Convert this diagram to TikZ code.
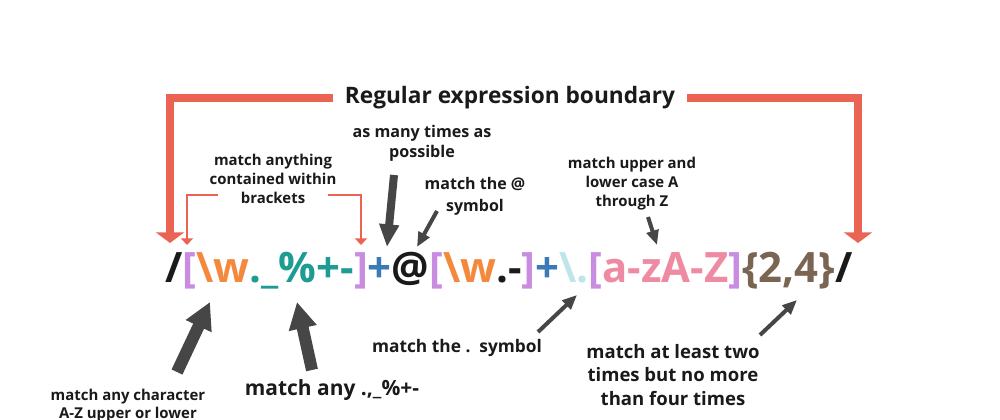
\documentclass[tikz,border=0pt]{standalone}
\usepackage{fontspec}
\setmainfont{Open Sans}
\usepackage{xcolor}
\usepackage{tikz}
\usetikzlibrary{arrows.meta, positioning}
\definecolor{inkblack}{RGB}{26, 26, 26}
\definecolor{arrowgray}{RGB}{70, 70, 70}
\definecolor{boundred}{RGB}{235, 99, 82}
\definecolor{bracketpurple}{RGB}{200, 140, 225}
\definecolor{wordorange}{RGB}{244, 136, 60}
\definecolor{charteal}{RGB}{30, 156, 148}
\definecolor{plusblue}{RGB}{59, 123, 181}
\definecolor{dotcyan}{RGB}{189, 229, 234}
\definecolor{azpink}{RGB}{238, 139, 162}
\definecolor{quantbrown}{RGB}{122, 100, 82}
\tikzstyle{note} = [text=inkblack, font=\fontsize{11.2}{14.3}\selectfont\bfseries, align=center, inner sep=0pt]
\tikzstyle{boundary} = [draw=boundred, line width=6pt, -{Triangle[width=21pt, length=8pt]}]
\tikzstyle{bracketline} = [draw=boundred, line width=2.2pt, -{Triangle[width=9pt, length=5pt]}]
\tikzstyle{thinarrow} = [draw=arrowgray, line width=3pt, -{Triangle[width=9pt, length=11pt]}]
\tikzstyle{midarrow} = [draw=arrowgray, line width=6pt, -{Triangle[width=14pt, length=17pt]}]
\tikzstyle{fatarrow} = [draw=arrowgray, line width=9pt, -{Triangle[width=20pt, length=20pt]}]

\begin{document}
\begin{tikzpicture}[x=0.75pt, y=-0.75pt]
    \fill[white] (0,0) rectangle (1000,420);
    \useasboundingbox (0,0) rectangle (1000,420);

    % The expression itself
    \node[anchor=base, inner sep=0pt, font=\fontsize{31.4}{36}\selectfont\bfseries] (regex) at (509, 283) {%
        \textcolor{inkblack}{/}\textcolor{bracketpurple}{[}\textcolor{wordorange}{\textbackslash w}\textcolor{charteal}{.\_\%+-}\textcolor{bracketpurple}{]}\textcolor{plusblue}{+}\textcolor{inkblack}{@}\textcolor{bracketpurple}{[}\textcolor{wordorange}{\textbackslash w}\textcolor{inkblack}{.-}\textcolor{bracketpurple}{]}\textcolor{plusblue}{+}\textcolor{dotcyan}{\textbackslash .}\textcolor{bracketpurple}{[}\textcolor{azpink}{a-zA-Z}\textcolor{bracketpurple}{]}\textcolor{quantbrown}{\{2,4\}}\textcolor{inkblack}{/}};

    % Boundary
    \node[note, font=\fontsize{17}{20}\selectfont\bfseries, inner xsep=9pt] (title) at (510, 98) {Regular expression boundary};
    \coordinate (lefttip) at (170, 243);
    \coordinate (righttip) at (858, 243);
    \draw[boundary] (title.west) -| (lefttip);
    \draw[boundary] (title.east) -| (righttip);

    % Brackets
    \node[note] (bracketnote) at (273, 179) {match anything\\contained within\\brackets};
    \coordinate (bropen) at (218, 195);
    \coordinate (brclose) at (328, 195);
    \coordinate (opentip) at (187, 245);
    \coordinate (closetip) at (361, 245);
    \draw[bracketline] (bropen) -| (opentip);
    \draw[bracketline] (brclose) -| (closetip);

    % Notes above
    \node[note, font=\fontsize{12.1}{15}\selectfont\bfseries] (manynote) at (422, 143) {as many times as\\possible};
    \node[note, font=\fontsize{12}{16.5}\selectfont\bfseries] (atnote) at (475, 196) {match the @\\symbol};
    \node[note] (casenote) at (632, 184) {match upper and\\lower case A\\through Z};
    \coordinate (manytail) at (394, 175);
    \coordinate (manytip) at (387, 247);
    \coordinate (attail) at (437, 211);
    \coordinate (attip) at (417, 247);
    \coordinate (casetail) at (648, 217);
    \coordinate (casetip) at (657, 245);
    \draw[midarrow] (manytail) -- (manytip);
    \draw[thinarrow] (attail) -- (attip);
    \draw[thinarrow] (casetail) -- (casetip);

    % Notes below
    \node[note, font=\fontsize{13}{17}\selectfont\bfseries] (dotnote) at (457, 348) {match the .\ \ symbol};
    \node[note, font=\fontsize{13.9}{17.6}\selectfont\bfseries] (countnote) at (673, 375) {match at least two\\times but no more\\than four times};
    \node[note, font=\fontsize{15.7}{19}\selectfont\bfseries] (anynote) at (332, 390) {match any .,\_\%+-};
    \node[note, font=\fontsize{11.2}{13.5}\selectfont\bfseries] (charnote) at (128, 406) {match any character\\A-Z upper or lower};
    \coordinate (dottail) at (538, 332);
    \coordinate (dottip) at (577, 295);
    \coordinate (counttail) at (760, 335);
    \coordinate (counttip) at (797, 300);
    \coordinate (anytail) at (312, 370);
    \coordinate (anytip) at (297, 302);
    \coordinate (chartail) at (177, 372);
    \coordinate (chartip) at (210, 302);
    \draw[thinarrow] (dottail) -- (dottip);
    \draw[thinarrow] (counttail) -- (counttip);
    \draw[fatarrow] (anytail) -- (anytip);
    \draw[fatarrow] (chartail) -- (chartip);
\end{tikzpicture}
\end{document}
